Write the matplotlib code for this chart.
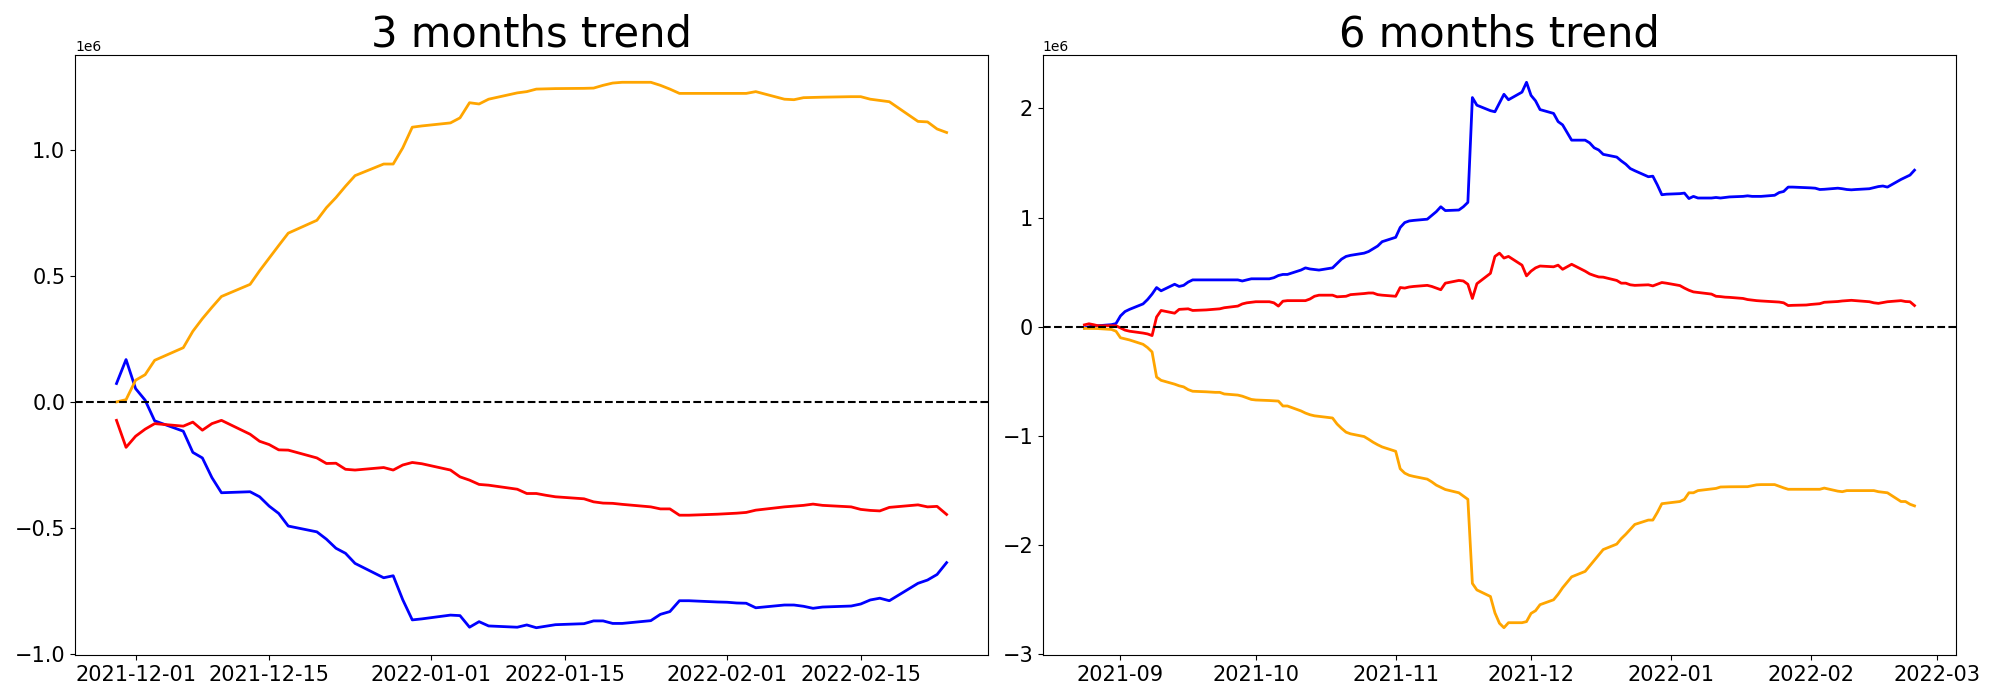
import matplotlib
matplotlib.use('Agg')
import matplotlib.pyplot as plt
import pandas as pd

# business days shown in each panel
dates_3m = pd.bdate_range('2021-11-29', '2022-02-24')
dates_6m = pd.bdate_range('2021-08-24', '2022-02-24')

# 3 months trend (values in 1e6)
blue_3m = [0.073, 0.168, 0.053, 0.007, -0.075,
           -0.116, -0.20, -0.222, -0.30, -0.36,
           -0.356, -0.376, -0.413, -0.442, -0.492,
           -0.515, -0.544, -0.58, -0.60, -0.64,
           -0.697, -0.689, -0.784, -0.864, -0.86,
           -0.845, -0.847, -0.893, -0.871, -0.888,
           -0.893, -0.884, -0.895, -0.889, -0.883,
           -0.879, -0.868, -0.868, -0.878, -0.878,
           -0.867, -0.842, -0.831, -0.788, -0.788,
           -0.793, -0.794, -0.797, -0.798, -0.816,
           -0.805, -0.805, -0.81, -0.818, -0.813,
           -0.809, -0.801, -0.785, -0.778, -0.788,
           -0.719, -0.706, -0.684, -0.637]
red_3m = [-0.073, -0.18, -0.136, -0.108, -0.086,
          -0.096, -0.08, -0.112, -0.086, -0.073,
          -0.128, -0.156, -0.169, -0.19, -0.191,
          -0.222, -0.244, -0.243, -0.267, -0.27,
          -0.26, -0.27, -0.25, -0.24, -0.245,
          -0.27, -0.297, -0.31, -0.327, -0.33,
          -0.346, -0.363, -0.363, -0.37, -0.376,
          -0.384, -0.396, -0.401, -0.402, -0.406,
          -0.416, -0.424, -0.424, -0.449, -0.449,
          -0.445, -0.443, -0.441, -0.438, -0.429,
          -0.416, -0.413, -0.41, -0.405, -0.41,
          -0.416, -0.426, -0.43, -0.432, -0.418,
          -0.408, -0.416, -0.414, -0.446]
orange_3m = [0.0, 0.009, 0.086, 0.108, 0.165,
             0.215, 0.28, 0.33, 0.375, 0.418,
             0.466, 0.52, 0.57, 0.62, 0.669,
             0.72, 0.77, 0.81, 0.855, 0.897,
             0.943, 0.943, 1.007, 1.089, 1.094,
             1.106, 1.126, 1.186, 1.181, 1.20,
             1.225, 1.23, 1.24, 1.241, 1.242,
             1.243, 1.244, 1.255, 1.264, 1.267,
             1.267, 1.255, 1.24, 1.223, 1.223,
             1.223, 1.223, 1.223, 1.223, 1.23,
             1.20, 1.198, 1.206, 1.207, 1.208,
             1.21, 1.21, 1.20, 1.195, 1.19,
             1.112, 1.11, 1.082, 1.068]

# 6 months trend (values in 1e6)
blue_6m = [-0.01, 0.0, 0.01, 0.01,
           0.02, 0.03, 0.10, 0.14, 0.16,
           0.21, 0.25, 0.30, 0.36, 0.33,
           0.39, 0.37, 0.38, 0.41, 0.43,
           0.43, 0.43, 0.43, 0.43, 0.43,
           0.43, 0.42, 0.43, 0.44, 0.44,
           0.44, 0.45, 0.47, 0.48, 0.48,
           0.52, 0.54, 0.53, 0.525, 0.52,
           0.54, 0.58, 0.62, 0.645, 0.655,
           0.675, 0.69, 0.715, 0.74, 0.78,
           0.82, 0.91, 0.955, 0.97, 0.975,
           0.986, 1.02, 1.055, 1.10, 1.065,
           1.07, 1.10, 1.14, 2.10, 2.03,
           1.98, 1.97, 2.05, 2.13, 2.08,
           2.15, 2.24, 2.12, 2.07, 1.99,
           1.955, 1.88, 1.85, 1.78, 1.71,
           1.71, 1.685, 1.64, 1.62, 1.58,
           1.555, 1.52, 1.49, 1.45, 1.43,
           1.375, 1.38, 1.30, 1.21, 1.215,
           1.22, 1.225, 1.175, 1.195, 1.18,
           1.18, 1.185, 1.18, 1.185, 1.19,
           1.195, 1.20, 1.195, 1.195, 1.195,
           1.205, 1.23, 1.24, 1.28, 1.28,
           1.275, 1.273, 1.27, 1.258, 1.26,
           1.27, 1.265, 1.258, 1.255, 1.258,
           1.265, 1.275, 1.285, 1.29, 1.28,
           1.35, 1.37, 1.39, 1.435]
red_6m = [0.018, 0.028, 0.02, 0.01,
          0.01, 0.01, -0.01, -0.03, -0.04,
          -0.057, -0.065, -0.08, 0.09, 0.15,
          0.125, 0.16, 0.162, 0.165, 0.15,
          0.155, 0.158, 0.16, 0.165, 0.175,
          0.19, 0.21, 0.22, 0.225, 0.23,
          0.23, 0.22, 0.19, 0.235, 0.24,
          0.24, 0.24, 0.255, 0.28, 0.29,
          0.29, 0.275, 0.277, 0.28, 0.295,
          0.305, 0.31, 0.31, 0.295, 0.29,
          0.28, 0.36, 0.355, 0.365, 0.37,
          0.38, 0.37, 0.355, 0.34, 0.40,
          0.425, 0.42, 0.39, 0.26, 0.395,
          0.49, 0.645, 0.675, 0.63, 0.645,
          0.565, 0.467, 0.51, 0.54, 0.557,
          0.55, 0.565, 0.527, 0.55, 0.573,
          0.51, 0.485, 0.47, 0.457, 0.455,
          0.425, 0.40, 0.40, 0.385, 0.38,
          0.385, 0.375, 0.39, 0.406, 0.40,
          0.378, 0.355, 0.335, 0.32, 0.315,
          0.30, 0.28, 0.277, 0.272, 0.27,
          0.26, 0.25, 0.245, 0.24, 0.237,
          0.23, 0.227, 0.22, 0.195, 0.197,
          0.20, 0.205, 0.208, 0.212, 0.225,
          0.232, 0.237, 0.24, 0.243, 0.24,
          0.23, 0.22, 0.215, 0.223, 0.23,
          0.24, 0.232, 0.23, 0.195]
orange_6m = [-0.014, -0.014, -0.015, -0.016,
             -0.024, -0.04, -0.10, -0.11, -0.12,
             -0.16, -0.19, -0.23, -0.46, -0.49,
             -0.525, -0.54, -0.55, -0.575, -0.59,
             -0.595, -0.598, -0.60, -0.60, -0.615,
             -0.625, -0.635, -0.65, -0.665, -0.67,
             -0.675, -0.678, -0.68, -0.725, -0.725,
             -0.77, -0.79, -0.805, -0.815, -0.82,
             -0.835, -0.89, -0.93, -0.965, -0.98,
             -1.005, -1.03, -1.057, -1.08, -1.10,
             -1.14, -1.30, -1.34, -1.36, -1.37,
             -1.395, -1.42, -1.45, -1.47, -1.49,
             -1.52, -1.55, -1.58, -2.35, -2.41,
             -2.47, -2.62, -2.715, -2.756, -2.71,
             -2.71, -2.70, -2.625, -2.60, -2.545,
             -2.50, -2.45, -2.39, -2.34, -2.29,
             -2.24, -2.19, -2.14, -2.09, -2.04,
             -1.99, -1.94, -1.90, -1.855, -1.81,
             -1.77, -1.77, -1.70, -1.62, -1.615,
             -1.60, -1.58, -1.52, -1.52, -1.50,
             -1.485, -1.48, -1.467, -1.466, -1.465,
             -1.464, -1.464, -1.455, -1.447, -1.445,
             -1.445, -1.46, -1.475, -1.488, -1.488,
             -1.488, -1.488, -1.488, -1.488, -1.477,
             -1.505, -1.51, -1.50, -1.50, -1.50,
             -1.50, -1.50, -1.51, -1.515, -1.52,
             -1.60, -1.60, -1.625, -1.64]

panels = [('3 months trend', dates_3m, blue_3m, red_3m, orange_3m),
          ('6 months trend', dates_6m, blue_6m, red_6m, orange_6m)]

fig, axes = plt.subplots(1, 2, figsize=(20, 7), dpi=100)
fig.subplots_adjust(left=0.0375, right=0.978, bottom=0.0643, top=0.9214, wspace=0.06)

for ax, (title, dates, blue, red, orange) in zip(axes, panels):
    ax.plot(dates, [v * 1e6 for v in blue], color='blue', linewidth=2)
    ax.plot(dates, [v * 1e6 for v in red], color='red', linewidth=2)
    ax.plot(dates, [v * 1e6 for v in orange], color='orange', linewidth=2)
    ax.axhline(0, color='black', linestyle='--', linewidth=1.5)
    ax.set_title(title, fontsize=30)
    ax.tick_params(labelsize=15)

fig.savefig('out.png')
